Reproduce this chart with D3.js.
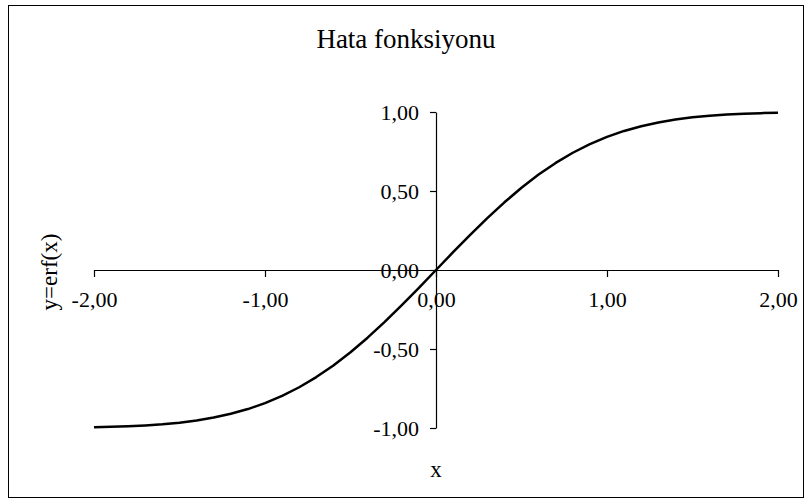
<!DOCTYPE html>
<html>
<head>
<meta charset="utf-8">
<script src="https://cdn.jsdelivr.net/npm/d3@7"></script>
<style>
  body { margin: 0; background: #fff; }
  svg text { fill: #000; }
</style>
</head>
<body>
<div id="chart"></div>
<script>
// values of erf(x) at 0.1 steps
const xs = [-2.0, -1.9, -1.8, -1.7, -1.6, -1.5, -1.4, -1.3, -1.2, -1.1, -1.0,
            -0.9, -0.8, -0.7, -0.6, -0.5, -0.4, -0.3, -0.2, -0.1, 0.0,
            0.1, 0.2, 0.3, 0.4, 0.5, 0.6, 0.7, 0.8, 0.9, 1.0,
            1.1, 1.2, 1.3, 1.4, 1.5, 1.6, 1.7, 1.8, 1.9, 2.0]
const ys = [-0.9953, -0.9928, -0.9891, -0.9838, -0.9763, -0.9661, -0.9523, -0.934, -0.9103, -0.8802, -0.8427,
            -0.7969, -0.7421, -0.6778, -0.6039, -0.5205, -0.4284, -0.3286, -0.2227, -0.1125, 0,
            0.1125, 0.2227, 0.3286, 0.4284, 0.5205, 0.6039, 0.6778, 0.7421, 0.7969, 0.8427,
            0.8802, 0.9103, 0.934, 0.9523, 0.9661, 0.9763, 0.9838, 0.9891, 0.9928, 0.9953]
const x_ticks = [-2, -1, 0, 1, 2]
const y_ticks = [-1, -0.5, 0, 0.5, 1]

const width = 810, height = 503
const serif = '"Liberation Serif", "Times New Roman", serif'

const svg = d3.select('#chart').append('svg')
    .attr('width', width)
    .attr('height', height)

// frame round the whole chart
svg.append('rect')
    .attr('x', 8.5).attr('y', 5.5)
    .attr('width', 795).attr('height', 492)
    .attr('fill', 'none')
    .attr('stroke', '#000')

const xScale = d3.scaleLinear().domain([-2, 2]).range([94, 778])
const yScale = d3.scaleLinear().domain([-1, 1]).range([428, 112])

// comma decimals and a plain hyphen for minus
const locale = d3.formatLocale({ decimal: ',', thousands: '.', grouping: [3], currency: ['', ''], minus: '-' })
const fmt = locale.format('.2f')

// x axis through y = 0
const gx = svg.append('g')
    .attr('transform', 'translate(0,' + yScale(0) + ')')
    .call(d3.axisBottom(xScale).tickValues(x_ticks).tickFormat(fmt).tickSizeInner(7).tickSizeOuter(0).tickPadding(14))
gx.attr('font-family', null)
gx.selectAll('text').style('font-family', serif).style('font-size', '22px')

// y axis through x = 0
const gy = svg.append('g')
    .attr('transform', 'translate(' + xScale(0) + ',0)')
    .call(d3.axisLeft(yScale).tickValues(y_ticks).tickFormat(fmt).tickSizeInner(6).tickSizeOuter(0).tickPadding(11))
gy.attr('font-family', null)
gy.selectAll('text').style('font-family', serif).style('font-size', '22px')

svg.selectAll('.domain, .tick line').attr('stroke', '#000').attr('stroke-width', 1.2)

// curve
const line = d3.line()
    .x((d, i) => xScale(xs[i]))
    .y(d => yScale(d))
svg.append('path')
    .datum(ys)
    .attr('d', line)
    .attr('fill', 'none')
    .attr('stroke', '#000')
    .attr('stroke-width', 2.5)
    .attr('stroke-linejoin', 'round')

// title and axis names
svg.append('text')
    .attr('x', 406).attr('y', 48)
    .attr('text-anchor', 'middle')
    .style('font-family', serif)
    .style('font-size', '27px')
    .text('Hata fonksiyonu')

svg.append('text')
    .attr('x', 436).attr('y', 477)
    .attr('text-anchor', 'middle')
    .style('font-family', serif)
    .style('font-size', '23px')
    .text('x')

svg.append('text')
    .attr('transform', 'translate(57,272) rotate(-90)')
    .attr('text-anchor', 'middle')
    .style('font-family', serif)
    .style('font-size', '23px')
    .text('y=erf(x)')
</script>
</body>
</html>
